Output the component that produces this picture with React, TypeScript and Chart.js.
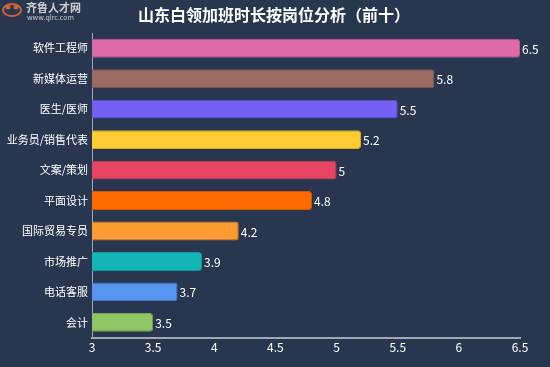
import React, { useEffect, useRef } from "react";
import { Chart, registerables } from "chart.js";

Chart.register(...registerables);

const categories = ["软件工程师", "新媒体运营", "医生/医师", "业务员/销售代表", "文案/策划", "平面设计", "国际贸易专员", "市场推广", "电话客服", "会计"];
const values = [6.5, 5.8, 5.5, 5.2, 5, 4.8, 4.2, 3.9, 3.7, 3.5];
const colors = ["#dd6aa9", "#9a6a63", "#7460f5", "#fecd34", "#e64463", "#fd6a00", "#fd9a31", "#14b5b5", "#5595f2", "#8dc663"];
const borders = ["#b95890", "#7e5752", "#5f4fcc", "#d4ab2b", "#c03853", "#d45800", "#d48028", "#109797", "#4779ca", "#74a452"];
const titleText = "山东白领加班时长按岗位分析（前十）";

const FONT = "'Noto Sans CJK SC', 'Noto Sans', sans-serif";

export default function App() {
  const ref = useRef<HTMLCanvasElement | null>(null);
  useEffect(() => {
    document.body.style.margin = "0";
    const labelPlugin = {
      id: "valueLabels",
      afterDatasetsDraw(chart: any) {
        const ctx = chart.ctx;
        const meta = chart.getDatasetMeta(0);
        ctx.save();
        ctx.font = `12px ${FONT}`;
        ctx.fillStyle = "#ffffff";
        ctx.textAlign = "left";
        ctx.textBaseline = "middle";
        meta.data.forEach((el: any, i: number) => {
          ctx.fillText(String(values[i]), el.x + 2, el.y + 1);
        });
        ctx.restore();
      },
    };
    const titlePlugin = {
      id: "customTitle",
      afterDraw(chart: any) {
        const ctx = chart.ctx;
        ctx.save();
        ctx.fillStyle = "#ffffff";
        ctx.font = `bold 16px ${FONT}`;
        ctx.textAlign = "center";
        ctx.textBaseline = "middle";
        ctx.fillText(titleText, 274, 15);
        ctx.restore();
      },
    };
    const logoPlugin = {
      id: "logo",
      afterDraw(chart: any) {
        const ctx = chart.ctx;
        ctx.save();
        ctx.strokeStyle = "#c8633a";
        ctx.lineWidth = 2;
        ctx.beginPath();
        ctx.ellipse(12, 10, 9, 6, 0, 0, Math.PI * 2);
        ctx.stroke();
        ctx.fillStyle = "#c8633a";
        ctx.beginPath();
        ctx.arc(8, 7, 2.5, 0, Math.PI * 2);
        ctx.arc(16, 7, 2.5, 0, Math.PI * 2);
        ctx.fill();
        ctx.fillStyle = "#cfcfcf";
        ctx.font = `bold 11px ${FONT}`;
        ctx.textBaseline = "middle";
        ctx.fillText("齐鲁人才网", 26, 8);
        ctx.font = `7px ${FONT}`;
        ctx.fillText("www.qlrc.com", 27, 17);
        ctx.restore();
      },
    };
    const bg = {
      id: "bg",
      beforeDraw(chart: any) {
        const ctx = chart.ctx;
        ctx.save();
        ctx.fillStyle = "#283650";
        ctx.fillRect(0, 0, chart.width, chart.height);
        ctx.restore();
      },
    };
    const chart = new Chart(ref.current!, {
      type: "bar",
      data: {
        labels: categories,
        datasets: [
          {
            data: values,
            backgroundColor: colors,
            borderColor: borders,
            borderWidth: 1,
            borderRadius: 3,
            borderSkipped: "start",
            categoryPercentage: 1,
            barPercentage: 0.62,
          },
        ],
      },
      options: {
        indexAxis: "y",
        animation: false,
        responsive: false,
        maintainAspectRatio: false,
        layout: { padding: { top: 33, right: 30, bottom: 12, left: 0 } },
        plugins: {
          legend: { display: false },
          tooltip: { enabled: false },
          title: { display: false },
        },
        scales: {
          x: {
            min: 3,
            max: 6.5,
            ticks: {
              stepSize: 0.5,
              color: "#ffffff",
              font: { family: FONT, size: 12 },
              padding: 0,
              callback: (v: any) => String(Number(v)),
            },
            grid: { display: false, drawTicks: true, tickLength: 3, color: "#a0a8b8" },
            border: { display: true, color: "#a0a8b8", width: 2 },
          },
          y: {
            afterFit: (scale: any) => {
              scale.width = 92;
            },
            ticks: { color: "#ffffff", font: { family: FONT, size: 11 }, padding: 1 },
            grid: { display: false, tickLength: 3, color: "#a0a8b8" },
            border: { display: true, color: "#a0a8b8", width: 1 },
          },
        },
      },
      plugins: [bg, labelPlugin, titlePlugin, logoPlugin],
    });
    return () => chart.destroy();
  }, []);
  return <canvas ref={ref} width={550} height={367} style={{ display: "block" }} />;
}
